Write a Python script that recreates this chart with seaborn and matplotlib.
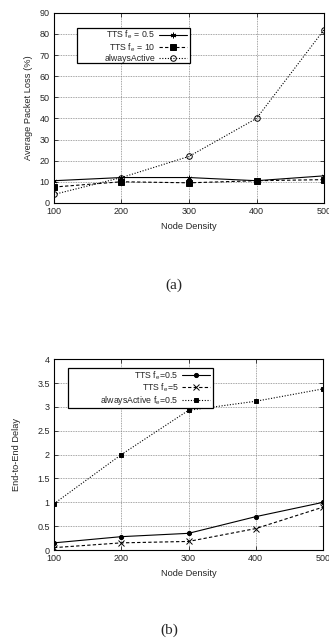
import numpy as np
import pandas as pd
import seaborn as sns
import matplotlib.pyplot as plt
from matplotlib.patches import Rectangle

density = [100, 200, 300, 400, 500]

# (a) average packet loss (%)
loss_tts_05 = [10.5, 12.0, 12.0, 10.5, 12.8]
loss_tts_10 = [7.5, 10.0, 9.5, 10.5, 11.0]
loss_always = [4.0, 12.0, 22.0, 40.0, 82.0]

# (b) end-to-end delay
delay_tts_05 = [0.15, 0.28, 0.35, 0.70, 1.00]
delay_tts_5 = [0.05, 0.15, 0.18, 0.45, 0.90]
delay_always = [0.97, 2.00, 2.93, 3.12, 3.38]

sns.set_style("ticks")
plt.rcParams['font.family'] = ['Liberation Sans', 'DejaVu Sans']
plt.rcParams['mathtext.fontset'] = 'custom'
plt.rcParams['mathtext.rm'] = 'Liberation Sans'
plt.rcParams['mathtext.it'] = 'Liberation Sans'

fig = plt.figure(figsize=(3.29, 6.4), dpi=100)
ax1 = fig.add_axes([0.164, 0.683, 0.821, 0.297])
ax2 = fig.add_axes([0.164, 0.1406, 0.818, 0.298])

asterisk = (6, 2, 0)

def style_axes(ax):
    ax.grid(True, linestyle=(0, (1, 1)), color='#888888', linewidth=0.6)
    ax.tick_params(direction='in', top=True, right=True, labelsize=6.5,
                   length=3, width=0.6, pad=3)
    for s in ax.spines.values():
        s.set_linewidth(0.8)
        s.set_color('black')
    ax.set_xlim(100, 500)
    ax.set_xticks(density)
    ax.set_xlabel('Node Density', fontsize=6.7, labelpad=4)

def boxed_legend(ax, x0, x1, ytop):
    # gnuplot style key: labels right aligned, white box, wide left margin
    leg = ax.legend(loc='upper right', bbox_to_anchor=(x1 - 0.012, ytop - 0.004),
                    fontsize=6.3, markerfirst=False, handlelength=3.2,
                    frameon=False, borderpad=0.0, labelspacing=0.0,
                    handletextpad=0.4, borderaxespad=0)
    leg.set_zorder(5)
    fig.canvas.draw()
    bb = leg.get_window_extent().transformed(ax.transAxes.inverted())
    ax.add_patch(Rectangle((x0, bb.y0 - 0.004), x1 - x0, ytop - bb.y0 + 0.004,
                           transform=ax.transAxes, facecolor='white',
                           edgecolor='black', linewidth=0.9, zorder=4))
    return leg

series_a = [
    ('TTS f$_e$ = 0.5', loss_tts_05, '-', asterisk, 'full', 4),
    ('TTS f$_e$ = 10', loss_tts_10, (0, (3, 2)), 's', 'full', 4),
    ('alwaysActive', loss_always, (0, (1, 1.5)), 'o', 'none', 4),
]
for label, vals, ls, mk, fill, ms in series_a:
    sns.lineplot(x=density, y=vals, ax=ax1, color='black', linestyle=ls,
                 marker=mk, fillstyle=fill, markersize=ms, linewidth=0.8,
                 markeredgecolor='black', markeredgewidth=0.7, label=label)
style_axes(ax1)
ax1.set_ylim(0, 90)
ax1.set_yticks(range(0, 91, 10))
ax1.set_ylabel('Average Packet Loss (%)', fontsize=6.7, labelpad=5)

series_b = [
    ('TTS f$_e$=0.5', delay_tts_05, '-', 'o', 'full', 3),
    ('TTS f$_e$=5', delay_tts_5, (0, (3, 2)), 'x', 'full', 4),
    ('alwaysActive f$_e$=0.5', delay_always, (0, (1, 1.5)), 's', 'full', 3),
]
for label, vals, ls, mk, fill, ms in series_b:
    sns.lineplot(x=density, y=vals, ax=ax2, color='black', linestyle=ls,
                 marker=mk, fillstyle=fill, markersize=ms, linewidth=0.8,
                 markeredgecolor='black', markeredgewidth=0.7, label=label)
style_axes(ax2)
ax2.set_ylim(0, 4)
ax2.set_yticks(np.arange(0, 4.01, 0.5))
ax2.set_yticklabels(['0', '0.5', '1', '1.5', '2', '2.5', '3', '3.5', '4'])
ax2.set_ylabel('End-to-End Delay', fontsize=6.7, labelpad=12)

boxed_legend(ax1, 0.085, 0.504, 0.921)
boxed_legend(ax2, 0.052, 0.591, 0.953)

fig.text(0.527, 0.555, '(a)', ha='center', va='center', fontsize=11,
         family=['Liberation Serif', 'DejaVu Serif'])
fig.text(0.515, 0.016, '(b)', ha='center', va='center', fontsize=11,
         family=['Liberation Serif', 'DejaVu Serif'])

fig.savefig('out.png', dpi=100)
